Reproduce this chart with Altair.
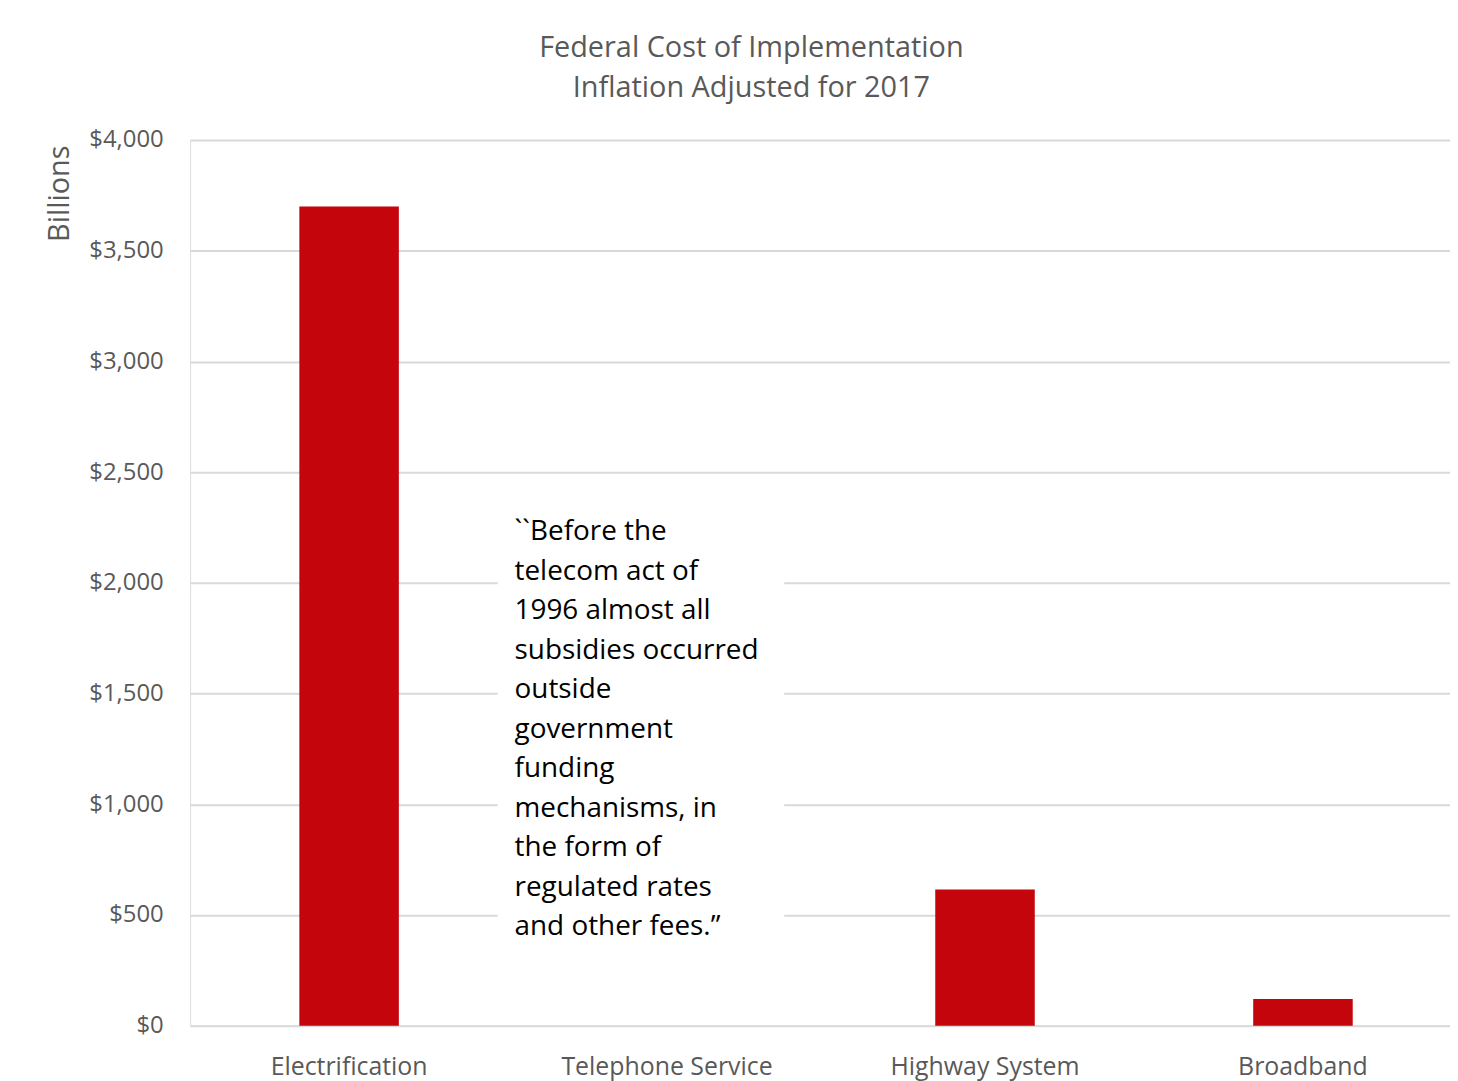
import altair as alt
import pandas as pd

categories = ["Electrification", "Telephone Service", "Highway System", "Broadband"]
costs = [3700, 0, 615, 120]
title_lines = ["Federal Cost of Implementation", "Inflation Adjusted for 2017"]
y_title = "Billions"
y_ticks = [0, 500, 1000, 1500, 2000, 2500, 3000, 3500, 4000]
note_lines = [
    "``Before the",
    "telecom act of",
    "1996 almost all",
    "subsidies occurred",
    "outside",
    "government",
    "funding",
    "mechanisms, in",
    "the form of",
    "regulated rates",
    "and other fees.\u201d",
]

FONT = "Open Sans"
GRAY = "#595959"

df = pd.DataFrame({"category": categories, "cost": costs})

bars = alt.Chart(df).mark_bar(color="#C4050C").encode(
    x=alt.X(
        "category:N",
        sort=categories,
        title=None,
        scale=alt.Scale(range=[0, 1278], paddingInner=0.687, paddingOuter=0.3435),
        axis=alt.Axis(
            labelAngle=0, labelFont=FONT, labelFontSize=25, labelColor=GRAY,
            labelPadding=29, labelLimit=500, ticks=False, domain=False, grid=False,
        ),
    ),
    y=alt.Y(
        "cost:Q",
        title=None,
        scale=alt.Scale(domain=[0, 4000], nice=False),
        axis=alt.Axis(
            values=y_ticks, format="$,.0f", labelFont=FONT, labelFontSize=24,
            labelColor=GRAY, labelPadding=27, ticks=False, domain=False,
            grid=True, gridColor="#d9d9d9", gridWidth=2,
        ),
    ),
)

box = alt.Chart(pd.DataFrame({"a": [0]})).mark_rect(color="white").encode(
    x=alt.value(309), x2=alt.value(597), y=alt.value(367), y2=alt.value(812)
)

note = alt.Chart(pd.DataFrame({"t": ["\n".join(note_lines)]})).mark_text(
    align="left", baseline="alphabetic", font=FONT, fontSize=28,
    color="black", lineBreak="\n", lineHeight=39.7,
).encode(x=alt.value(326), y=alt.value(402), text="t:N")

ylab = alt.Chart(pd.DataFrame({"t": [y_title]})).mark_text(
    angle=270, align="center", baseline="middle", font=FONT, fontSize=29, color=GRAY,
).encode(x=alt.value(-131), y=alt.value(54), text="t:N")

chart = alt.layer(bars, box, note, ylab).properties(
    width=1266,
    height=890,
    title=alt.TitleParams(
        text=title_lines, font=FONT, fontSize=29, fontWeight="normal",
        color=GRAY, anchor="middle", offset=25, lineHeight=40, dx=-69,
    ),
    padding={"left": 183, "top": 130, "right": 0, "bottom": 60},
    autosize=alt.AutoSizeParams(type="none"),
).configure_view(stroke=None).configure(background="white")

chart.save("out.html", embed_options={"renderer": "svg", "actions": False})
